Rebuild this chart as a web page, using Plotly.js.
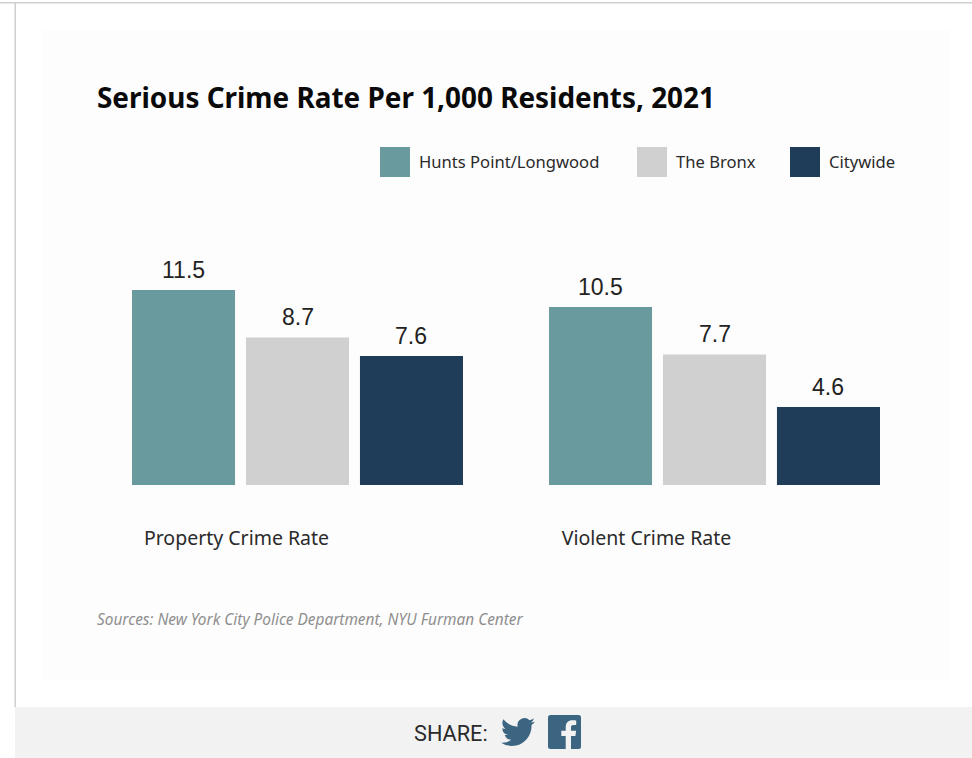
<!DOCTYPE html>
<html><head><meta charset="utf-8">
<script src="https://cdn.plot.ly/plotly-3.0.1.min.js"></script>
<style>html,body{margin:0;padding:0;background:#fff;overflow:hidden}#chart{width:972px;height:758px}
svg.icon{position:absolute}</style></head>
<body><div id="chart"></div>
<svg class="icon" style="left:501px;top:717px" width="34" height="30" viewBox="0 1.5 24 21" preserveAspectRatio="none"><path fill="#3b6580" d="M23.953 4.57a10 10 0 01-2.825.775 4.958 4.958 0 002.163-2.723c-.951.555-2.005.959-3.127 1.184a4.92 4.92 0 00-8.384 4.482C7.69 8.095 4.067 6.13 1.64 3.162a4.822 4.822 0 00-.666 2.475c0 1.71.87 3.213 2.188 4.096a4.904 4.904 0 01-2.228-.616v.06a4.923 4.923 0 003.946 4.827 4.996 4.996 0 01-2.212.085 4.936 4.936 0 004.604 3.417 9.867 9.867 0 01-6.102 2.105c-.39 0-.779-.023-1.17-.067a13.995 13.995 0 007.557 2.209c9.053 0 13.998-7.496 13.998-13.985 0-.21 0-.42-.015-.63A9.935 9.935 0 0024 4.59z"/></svg>
<svg class="icon" style="left:548px;top:715px" width="33" height="34" viewBox="0 0 33 34"><rect width="33" height="34" rx="2.5" fill="#3b6580"/><path fill="#f2f2f2" d="M23 34V21h4.4l.7-5.2H23v-3.2c0-1.5.4-2.5 2.5-2.5h2.7V5.5c-.5-.1-2.1-.2-3.9-.2-3.9 0-6.6 2.4-6.6 6.8v3.7h-4.4V21h4.4v13z"/></svg>
<script>
const categories = ["Property Crime Rate", "Violent Crime Rate"];
const seriesNames = ["Hunts Point/Longwood", "The Bronx", "Citywide"];
const huntsPoint = [11.5, 10.5];
const bronx = [8.7, 7.7];
const citywide = [7.6, 4.6];
const seriesColors = ["#699a9e", "#d0d0d0", "#1f3d58"];
const chartTitle = "Serious Crime Rate Per 1,000 Residents, 2021";
const sourceNote = "Sources: New York City Police Department, NYU Furman Center";
const shareText = "SHARE:";

const W = 972, H = 758, L = 89, R = 923, T = 225, B = 485;
const px = x => (x - L) / (R - L);
const py = y => (B - y) / (B - T);
const bodyFont = "Noto Sans, Open Sans, sans-serif";
const x = categories.map((c, i) => i);
const values = [huntsPoint, bronx, citywide];
const bargap = 0.18;

const traces = seriesNames.map((name, i) => ({
  type: "bar", name, x, y: values[i],
  marker: {color: seriesColors[i]},
  hoverinfo: "name+y"
}));

const rect = (x0, x1, y0, y1, fill, layer) => ({type: "rect", xref: "paper", yref: "paper",
  x0: px(x0), x1: px(x1), y0: py(y1), y1: py(y0), fillcolor: fill, line: {width: 0}, layer: layer || "below"});
const legendSwatchX = [380, 637, 790];
const legendTextX = [417, 674, 827];

const shapes = [
  rect(43, 950, 30, 680, "#fdfdfd"),
  rect(0, 972, 2, 3.5, "#cfcfcf"),
  rect(14.5, 16, 2, 707, "#cfcfcf"),
  rect(15, 972, 707, 758, "#f2f2f2"),
  ...seriesNames.map((n, i) => rect(legendSwatchX[i], legendSwatchX[i] + 30, 147, 177, seriesColors[i]))
];
const note = (text, xp, yp, size, color, extra) => Object.assign({xref: "paper", yref: "paper", x: px(xp), y: py(yp),
  text, showarrow: false, xanchor: "left", yanchor: "middle", font: {family: bodyFont, size, color}}, extra || {});
const slot = (1 - bargap) / seriesNames.length;
const valueLabels = values.flatMap((vals, s) => vals.map((v, c) => ({
  xref: "x", yref: "y", x: c + (s - 1) * slot, y: v, text: v.toFixed(1), showarrow: false,
  xanchor: "center", yanchor: "bottom", yshift: 5,
  font: {family: "Liberation Sans, Arial, sans-serif", size: 23, color: "#222"}
})));
const annotations = [
  ...valueLabels,
  ...seriesNames.map((n, i) => note(n, legendTextX[i], 161.5, 16.6, "#2a2a2a")),
  note("<i>" + sourceNote + "</i>", 95, 619, 15.4, "#8f8f8f"),
  note(shareText, 412, 733, 21.7, "#2a2a2a", {font: {family: "Roboto, sans-serif", size: 21.7, color: "#2a2a2a"}})
];

Plotly.newPlot("chart", traces, {
  width: W, height: H, autosize: false,
  paper_bgcolor: "rgba(0,0,0,0)", plot_bgcolor: "rgba(0,0,0,0)",
  margin: {l: L, r: W - R, t: T, b: H - B, pad: 0},
  title: {text: "<b>" + chartTitle + "</b>", xref: "container", yref: "container", x: 97 / W, xanchor: "left",
          y: 1 - 98 / H, yanchor: "middle", font: {family: "Noto Sans, sans-serif", size: 27.9, color: "#0a0a0a"}},
  barmode: "group", bargap, bargroupgap: 0.096,
  showlegend: false,
  xaxis: {range: [-0.5, 1.5], showgrid: false, zeroline: false, showline: false, ticks: "",
          tickmode: "array", tickvals: [1 - 1.1463, 1 - 0.163], ticktext: categories,
          ticklabelstandoff: 39, tickfont: {family: bodyFont, size: 19.5, color: "#2a2a2a"}},
  yaxis: {range: [0, (B - T) / 16.96], visible: false, showgrid: false, zeroline: false},
  shapes, annotations
}, {displayModeBar: false, staticPlot: true});
</script></body></html>
